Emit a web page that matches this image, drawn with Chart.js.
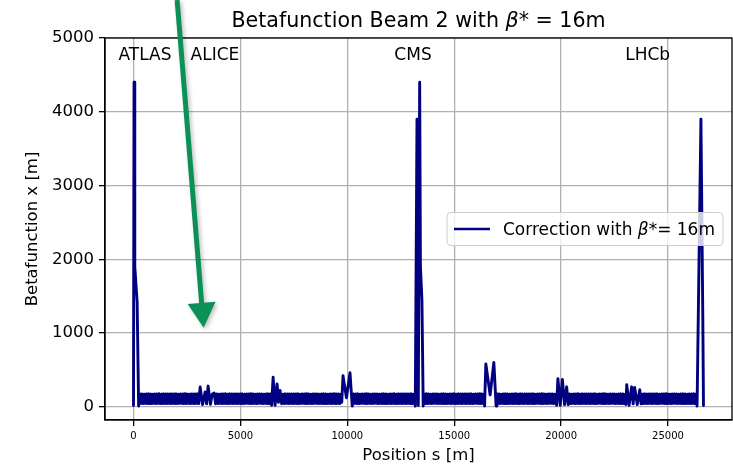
<!DOCTYPE html>
<html>
<head>
<meta charset="utf-8">
<script src="https://cdn.jsdelivr.net/npm/chart.js@4.4.1/dist/chart.umd.min.js"></script>
<style>
  html, body { margin: 0; padding: 0; background: #fff; }
</style>
</head>
<body>
<canvas id="betaChart" width="733" height="467"></canvas>
<script>
// position along the ring [m]
const positionS = [
  // IP1 right side
  0, 25, 60, 170, 240,
  // arc
  300, 350, 400, 450, 500, 550, 600, 650, 700, 750,
  800, 850, 900, 950, 1000, 1050, 1100, 1150, 1200, 1250,
  1300, 1350, 1400, 1450, 1500, 1550, 1600, 1650, 1700, 1750,
  1800, 1850, 1900, 1950, 2000, 2050, 2100, 2150, 2200, 2250,
  2300, 2350, 2400, 2450, 2500, 2550, 2600, 2650, 2700, 2750,
  2800, 2850, 2900, 2950, 3000, 3050,
  3117, 3230, 3350, 3420, 3490, 3600, 3680, 3771, 3840,
  // arc
  3900, 3950, 4000, 4050, 4100, 4150, 4200, 4250, 4300, 4350,
  4400, 4450, 4500, 4550, 4600, 4650, 4700, 4750, 4800, 4850,
  4900, 4950, 5000, 5050, 5100, 5150, 5200, 5250, 5300, 5350,
  5400, 5450, 5500, 5550, 5600, 5650, 5700, 5750, 5800, 5850,
  5900, 5950, 6000, 6050, 6100, 6150, 6200, 6250, 6300, 6350,
  6400,
  6460, 6530, 6620, 6715, 6780, 6855, 6930,
  // arc
  7000, 7050, 7100, 7150, 7200, 7250, 7300, 7350, 7400, 7450,
  7500, 7550, 7600, 7650, 7700, 7750, 7800, 7850, 7900, 7950,
  8000, 8050, 8100, 8150, 8200, 8250, 8300, 8350, 8400, 8450,
  8500, 8550, 8600, 8650, 8700, 8750, 8800, 8850, 8900, 8950,
  9000, 9050, 9100, 9150, 9200, 9250, 9300, 9350, 9400, 9450,
  9500, 9550, 9600, 9650, 9700,
  9740, 9800, 9960, 10126, 10230,
  // arc
  10300, 10350, 10400, 10450, 10500, 10550, 10600, 10650, 10700, 10750,
  10800, 10850, 10900, 10950, 11000, 11050, 11100, 11150, 11200, 11250,
  11300, 11350, 11400, 11450, 11500, 11550, 11600, 11650, 11700, 11750,
  11800, 11850, 11900, 11950, 12000, 12050, 12100, 12150, 12200, 12250,
  12300, 12350, 12400, 12450, 12500, 12550, 12600, 12650, 12700, 12750,
  12800, 12850, 12900, 12950, 13000, 13050, 13100,
  // CMS
  13180, 13260, 13320, 13385, 13420, 13490, 13550,
  // arc
  13600, 13650, 13700, 13750, 13800, 13850, 13900, 13950, 14000, 14050,
  14100, 14150, 14200, 14250, 14300, 14350, 14400, 14450, 14500, 14550,
  14600, 14650, 14700, 14750, 14800, 14850, 14900, 14950, 15000, 15050,
  15100, 15150, 15200, 15250, 15300, 15350, 15400, 15450, 15500, 15550,
  15600, 15650, 15700, 15750, 15800, 15850, 15900, 15950, 16000, 16050,
  16100, 16150, 16200, 16250, 16300, 16350, 16400,
  16420, 16480, 16680, 16855, 16960,
  // arc
  17000, 17050, 17100, 17150, 17200, 17250, 17300, 17350, 17400, 17450,
  17500, 17550, 17600, 17650, 17700, 17750, 17800, 17850, 17900, 17950,
  18000, 18050, 18100, 18150, 18200, 18250, 18300, 18350, 18400, 18450,
  18500, 18550, 18600, 18650, 18700, 18750, 18800, 18850, 18900, 18950,
  19000, 19050, 19100, 19150, 19200, 19250, 19300, 19350, 19400, 19450,
  19500, 19550, 19600, 19650, 19700,
  19790, 19850, 19960, 20060, 20160, 20260, 20330,
  // arc
  20400, 20450, 20500, 20550, 20600, 20650, 20700, 20750, 20800, 20850,
  20900, 20950, 21000, 21050, 21100, 21150, 21200, 21250, 21300, 21350,
  21400, 21450, 21500, 21550, 21600, 21650, 21700, 21750, 21800, 21850,
  21900, 21950, 22000, 22050, 22100, 22150, 22200, 22250, 22300, 22350,
  22400, 22450, 22500, 22550, 22600, 22650, 22700, 22750, 22800, 22850,
  22900, 22950, 23000,
  23030, 23070, 23180, 23300, 23370, 23440, 23560, 23680, 23740,
  // arc
  23800, 23850, 23900, 23950, 24000, 24050, 24100, 24150, 24200, 24250,
  24300, 24350, 24400, 24450, 24500, 24550, 24600, 24650, 24700, 24750,
  24800, 24850, 24900, 24950, 25000, 25050, 25100, 25150, 25200, 25250,
  25300, 25350, 25400, 25450, 25500, 25550, 25600, 25650, 25700, 25750,
  25800, 25850, 25900, 25950, 26000, 26050, 26100, 26150, 26200, 26250,
  26300,
  // IP1 left side
  26360, 26540, 26630, 26659
];

// beta function x [m]
const betaX = [
  16, 4400, 1900, 1420, 10,
  172, 45, 174, 43, 171, 46, 173, 44, 175, 42,
  173, 44, 171, 46, 174, 43, 172, 45, 176, 44,
  171, 43, 175, 45, 172, 44, 174, 46, 173, 42,
  174, 45, 172, 43, 175, 44, 171, 46, 173, 45,
  172, 44, 176, 42, 173, 45, 171, 43, 174, 46,
  173, 44, 172, 45, 175, 43,
  267, 30, 200, 40, 280, 32, 170, 185, 40,
  173, 44, 171, 46, 174, 43, 172, 45, 176, 44,
  171, 43, 175, 45, 172, 44, 174, 46, 173, 42,
  174, 45, 172, 43, 175, 44, 171, 46, 173, 45,
  172, 44, 176, 42, 173, 45, 171, 43, 174, 46,
  172, 45, 174, 43, 171, 46, 173, 44, 175, 42,
  173,
  20, 400, 20, 310, 60, 220, 40,
  171, 43, 175, 45, 172, 44, 174, 46, 173, 42,
  174, 45, 172, 43, 175, 44, 171, 46, 173, 45,
  172, 44, 176, 42, 173, 45, 171, 43, 174, 46,
  172, 45, 174, 43, 171, 46, 173, 44, 175, 42,
  173, 44, 171, 46, 174, 43, 172, 45, 176, 44,
  172, 45, 174, 43, 171,
  60, 420, 120, 460, 10,
  174, 45, 172, 43, 175, 44, 171, 46, 173, 45,
  172, 44, 176, 42, 173, 45, 171, 43, 174, 46,
  172, 45, 174, 43, 171, 46, 173, 44, 175, 42,
  173, 44, 171, 46, 174, 43, 172, 45, 176, 44,
  171, 43, 175, 45, 172, 44, 174, 46, 173, 42,
  174, 45, 172, 43, 175, 44, 171,
  10, 3900, 16, 4400, 1900, 1450, 10,
  172, 44, 176, 42, 173, 45, 171, 43, 174, 46,
  172, 45, 174, 43, 171, 46, 173, 44, 175, 42,
  173, 44, 171, 46, 174, 43, 172, 45, 176, 44,
  171, 43, 175, 45, 172, 44, 174, 46, 173, 42,
  174, 45, 172, 43, 175, 44, 171, 46, 173, 45,
  172, 44, 176, 42, 173, 45, 171,
  10, 580, 160, 600, 10,
  172, 45, 174, 43, 171, 46, 173, 44, 175, 42,
  173, 44, 171, 46, 174, 43, 172, 45, 176, 44,
  171, 43, 175, 45, 172, 44, 174, 46, 173, 42,
  174, 45, 172, 43, 175, 44, 171, 46, 173, 45,
  172, 44, 176, 42, 173, 45, 171, 43, 174, 46,
  172, 45, 174, 43, 171,
  20, 380, 20, 370, 30, 270, 30,
  173, 44, 171, 46, 174, 43, 172, 45, 176, 44,
  171, 43, 175, 45, 172, 44, 174, 46, 173, 42,
  174, 45, 172, 43, 175, 44, 171, 46, 173, 45,
  172, 44, 176, 42, 173, 45, 171, 43, 174, 46,
  172, 45, 174, 43, 171, 46, 173, 44, 175, 42,
  173, 44, 171,
  30, 300, 20, 270, 40, 260, 30, 230, 40,
  171, 43, 175, 45, 172, 44, 174, 46, 173, 42,
  174, 45, 172, 43, 175, 44, 171, 46, 173, 45,
  172, 44, 176, 42, 173, 45, 171, 43, 174, 46,
  172, 45, 174, 43, 171, 46, 173, 44, 175, 42,
  173, 44, 171, 46, 174, 43, 172, 45, 176, 44,
  171,
  10, 3900, 1130, 16
];

const xTickValues = [0, 5000, 10000, 15000, 20000, 25000];
const yTickValues = [0, 1000, 2000, 3000, 4000, 5000];
const xLimits = [-1333, 27993];
const yLimits = [-180, 5000];

const ipNames = ['ATLAS', 'ALICE', 'CMS', 'LHCb'];
const ipLabelS = [-700, 2670, 12200, 23000];
const ipLabelBeta = 4700;

// big green arrow pasted over the plot (data coords)
const arrowTail = [2040, 5515];
const arrowTip = [3280, 1070];

const FONT = '"DejaVu Sans", sans-serif';
const seriesLabel = 'Correction with β*= 16m';

const overlay = {
  id: 'overlay',
  afterDraw(chart) {
    const ctx = chart.ctx;
    const a = chart.chartArea;
    const xs = chart.scales.x, ys = chart.scales.y;

    // axes frame
    ctx.save();
    ctx.strokeStyle = '#000';
    ctx.lineWidth = 1.3;
    ctx.strokeRect(a.left, a.top, a.right - a.left, a.bottom - a.top);
    ctx.restore();

    // IP labels
    ctx.save();
    ctx.fillStyle = '#000';
    ctx.font = '17px ' + FONT;
    ctx.textBaseline = 'alphabetic';
    ipNames.forEach((n, i) => {
      ctx.fillText(n, xs.getPixelForValue(ipLabelS[i]), ys.getPixelForValue(ipLabelBeta));
    });
    ctx.restore();

    // title
    const cx = (a.left + a.right) / 2;
    drawMixed(ctx, [['Betafunction Beam 2 with ', ''], ['β', 'italic '], ['* = 16m', '']], 20.6, cx, 27);

    // axis titles
    ctx.save();
    ctx.fillStyle = '#000';
    ctx.font = '16.5px ' + FONT;
    ctx.textAlign = 'center';
    ctx.textBaseline = 'middle';
    ctx.fillText('Position s [m]', cx, 456);
    ctx.translate(33, (a.top + a.bottom) / 2);
    ctx.rotate(-Math.PI / 2);
    ctx.fillText('Betafunction x [m]', 0, 0);
    ctx.restore();

    // legend (center right)
    const parts = [['Correction with ', ''], ['β', 'italic '], ['*= 16m', '']];
    ctx.save();
    let tw = 0;
    parts.forEach(p => { ctx.font = p[1] + '17px ' + FONT; tw += ctx.measureText(p[0]).width; });
    const bw = 7 + 36 + 13 + tw + 8, bh = 33;
    const bx = a.right - 9 - bw, by = (a.top + a.bottom) / 2 - bh / 2;
    ctx.beginPath();
    ctx.roundRect(bx, by, bw, bh, 4);
    ctx.fillStyle = 'rgba(255,255,255,0.8)';
    ctx.fill();
    ctx.strokeStyle = '#cccccc';
    ctx.lineWidth = 1;
    ctx.stroke();
    ctx.beginPath();
    ctx.moveTo(bx + 7, by + bh / 2);
    ctx.lineTo(bx + 43, by + bh / 2);
    ctx.strokeStyle = '#000080';
    ctx.lineWidth = 2.6;
    ctx.stroke();
    ctx.restore();
    drawMixed(ctx, parts, 17, bx + 56 + tw / 2, by + bh / 2 + 6);

    // arrow
    const tx = xs.getPixelForValue(arrowTail[0]), ty = ys.getPixelForValue(arrowTail[1]);
    const hx = xs.getPixelForValue(arrowTip[0]), hy = ys.getPixelForValue(arrowTip[1]);
    const len = Math.hypot(hx - tx, hy - ty);
    const ux = (hx - tx) / len, uy = (hy - ty) / len;
    const bxc = hx - 25 * ux, byc = hy - 25 * uy;
    ctx.save();
    ctx.shadowColor = 'rgba(0,0,0,0.25)';
    ctx.shadowBlur = 4;
    ctx.shadowOffsetX = 2;
    ctx.shadowOffsetY = 2;
    ctx.strokeStyle = '#0b9155';
    ctx.fillStyle = '#0b9155';
    ctx.lineWidth = 5;
    ctx.beginPath();
    ctx.moveTo(tx, ty);
    ctx.lineTo(bxc + 2 * ux, byc + 2 * uy);
    ctx.stroke();
    ctx.beginPath();
    ctx.moveTo(hx, hy);
    ctx.lineTo(bxc - 14 * uy, byc + 14 * ux);
    ctx.lineTo(bxc + 14 * uy, byc - 14 * ux);
    ctx.closePath();
    ctx.fill();
    ctx.restore();
  }
};

// text with an italic beta, centred on cx
function drawMixed(ctx, parts, size, cx, baseline) {
  ctx.save();
  ctx.fillStyle = '#000';
  ctx.textBaseline = 'alphabetic';
  ctx.textAlign = 'left';
  let w = 0;
  parts.forEach(p => { ctx.font = p[1] + size + 'px ' + FONT; w += ctx.measureText(p[0]).width; });
  let x = cx - w / 2;
  parts.forEach(p => {
    ctx.font = p[1] + size + 'px ' + FONT;
    ctx.fillText(p[0], x, baseline);
    x += ctx.measureText(p[0]).width;
  });
  ctx.restore();
}

new Chart(document.getElementById('betaChart'), {
  type: 'line',
  data: {
    datasets: [{
      label: seriesLabel,
      data: positionS.map((s, i) => ({ x: s, y: betaX[i] })),
      borderColor: '#000080',
      borderWidth: 2.9,
      borderJoinStyle: 'round',
      borderCapStyle: 'round',
      pointRadius: 0,
      tension: 0,
      fill: false
    }]
  },
  options: {
    responsive: false,
    animation: false,
    layout: { padding: { top: 38, right: 1, left: 0, bottom: 0 } },
    plugins: { legend: { display: false }, tooltip: { enabled: false } },
    scales: {
      x: {
        type: 'linear',
        min: xLimits[0],
        max: xLimits[1],
        afterBuildTicks: s => { s.ticks = xTickValues.map(v => ({ value: v })); },
        afterFit: s => { s.height = 47; },
        grid: { color: '#b0b0b0', lineWidth: 1.3, tickColor: '#000', tickLength: 6 },
        border: { color: '#000', width: 1.3 },
        ticks: { color: '#000', font: { family: FONT, size: 10 }, padding: 4, maxRotation: 0, callback: v => String(v) }
      },
      y: {
        min: yLimits[0],
        max: yLimits[1],
        afterBuildTicks: s => { s.ticks = yTickValues.map(v => ({ value: v })); },
        afterFit: s => { s.width = 105; },
        grid: { color: '#b0b0b0', lineWidth: 1.3, tickColor: '#000', tickLength: 6 },
        border: { color: '#000', width: 1.3 },
        ticks: { color: '#000', font: { family: FONT, size: 16.5 }, padding: 5, callback: v => String(v) }
      }
    }
  },
  plugins: [overlay]
});
</script>
</body>
</html>
